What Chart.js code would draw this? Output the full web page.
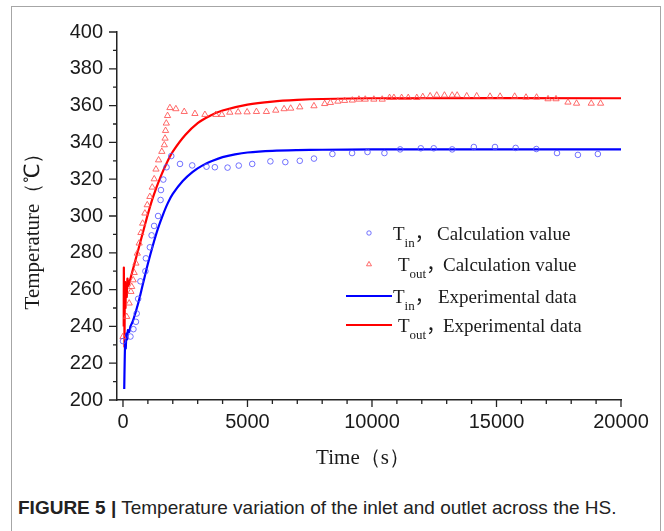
<!DOCTYPE html>
<html>
<head>
<meta charset="utf-8">
<script src="https://cdn.jsdelivr.net/npm/chart.js@4.4.1/dist/chart.umd.min.js"></script>
<style>
  html, body { margin: 0; padding: 0; background: #fff; }
  body { width: 664px; height: 531px; position: relative; overflow: hidden; }
  .frame { position: absolute; left: 11px; top: 6px; width: 648px; height: 560px; border: 1px solid #a6a6a6; }
  .chart-box { position: absolute; left: 0; top: 0; width: 664px; height: 480px; }
  .caption { position: absolute; left: 18px; top: 497px; font: 19px "Liberation Sans", Arial, sans-serif; color: #222; white-space: nowrap; }
</style>
</head>
<body>
<div class="frame"></div>
<div class="chart-box"><canvas id="chart" width="664" height="480"></canvas></div>
<div class="caption"><b>FIGURE 5 |</b> Temperature variation of the inlet and outlet across the HS.</div>
<script>
const xTicks = [0, 5000, 10000, 15000, 20000];
const yTicks = [200, 220, 240, 260, 280, 300, 320, 340, 360, 380, 400];

// T_in, calculation value (circles)
const tinCalcTime = [0, 300, 420, 520, 550, 610, 700, 900, 920, 1080, 1150, 1250, 1410, 1510, 1525, 1620, 1750, 1940, 2290, 2780, 3355, 3690, 4200, 4650, 5190, 5920, 6520, 7100, 7670, 8410, 9200, 9820, 10500, 11130, 11960, 12480, 13220, 14090, 14940, 15770, 16600, 17430, 18270, 19070];
const tinCalcTemp = [232, 234.5, 238.5, 242.5, 247, 255, 264.5, 270, 277, 283, 289.5, 294.6, 300, 308.7, 314.1, 319.8, 326.5, 332.6, 328.3, 327.5, 326.8, 326.5, 326.3, 327.4, 328.3, 329.7, 329.3, 330, 331.2, 333.7, 334.2, 334.8, 334.2, 336.2, 336.8, 336.8, 336.2, 337.5, 337.5, 337, 336.4, 334.2, 333.2, 333.7];

// T_out, calculation value (triangles)
const toutCalcTime = [0, 150, 250, 320, 350, 410, 450, 520, 575, 650, 720, 790, 880, 975, 1080, 1175, 1255, 1325, 1430, 1560, 1660, 1690, 1710, 1740, 1790, 1885, 2125, 2460, 2890, 3290, 3730, 3970, 4290, 4625, 4985, 5360, 5760, 6135, 6470, 6735, 7100, 7670, 8100, 8330, 8630, 8900, 9210, 9475, 9730, 10075, 10410, 10705, 10880, 11190, 11455, 11800, 12040, 12335, 12600, 12910, 13220, 13420, 13805, 14205, 14740, 15145, 15730, 16185, 16610, 17070, 17390, 17870, 18215, 18805, 19180];
const toutCalcTemp = [234.4, 245.3, 252.6, 258.9, 261.6, 265.2, 269.2, 274.3, 279.7, 285.2, 290.9, 296, 301.5, 306, 310.5, 315.6, 320.1, 325.4, 330.4, 335, 338.6, 342.2, 346.4, 350.4, 354.5, 358.8, 358.2, 356.7, 355.6, 355.1, 355.1, 355.1, 356.3, 356.5, 356.5, 356.7, 356.7, 357.4, 358.2, 358.5, 359.2, 359.8, 361, 361.6, 362.3, 362.7, 362.9, 363.4, 363.4, 363.4, 363.4, 364.3, 364.3, 364.3, 364.3, 364.3, 364.8, 365.2, 365.6, 365.6, 365.6, 365.6, 365.2, 365.2, 365, 365, 365, 364.5, 364.5, 363.6, 363.6, 361.8, 361.2, 361.2, 361.2];

// T_in, experimental data (blue line)
const tinExpTime = [50, 70, 90, 110, 140, 170, 200, 250, 300, 400, 600, 800, 1000, 1200, 1400, 1600, 1800, 2000, 2400, 2800, 3200, 3600, 4000, 4500, 5000, 6000, 7000, 8000, 10000, 15000, 20000];
const tinExpTemp = [206, 222, 232, 228, 236, 233, 238, 237, 240, 243, 252, 263, 274, 284, 293, 300.5, 307, 312, 319, 324, 327.5, 330, 332, 333.5, 334.5, 335.4, 335.8, 336, 336.2, 336.2, 336.2];

// T_out, experimental data (red line)
const toutExpTime = [30, 35, 45, 55, 60, 80, 100, 120, 150, 180, 220, 300, 400, 500, 600, 800, 1000, 1200, 1500, 1800, 2000, 2500, 3000, 3500, 4000, 5000, 6000, 7000, 8000, 10000, 20000];
const toutExpTemp = [240, 272, 245, 262, 229, 264, 250, 262, 256, 266, 262, 266, 271, 276, 281, 291, 301, 310, 321, 330, 335, 344, 350.5, 354.5, 357.3, 360.5, 362.2, 363.1, 363.6, 364, 364];

const legendSubs = ["in", "out", "in", "out"];
const legendTexts = ["Calculation value", "Calculation value", "Experimental data", "Experimental data"];

const blueMark = "rgba(80, 80, 255, 0.8)";
const redMark = "rgba(255, 80, 80, 0.85)";
const blueLine = "#0000ff";
const redLine = "#ff0000";
const axisColor = "#222";
const serif = "'Liberation Serif', 'Times New Roman', serif";
const sans = "'Liberation Sans', Arial, sans-serif";

const toPoints = (xs, ys) => xs.map((x, i) => ({ x, y: ys[i] }));

const decorations = {
  id: "decorations",
  afterDraw(chart) {
    const { ctx } = chart;
    const x = chart.scales.x;
    const y = chart.scales.y;
    ctx.save();
    ctx.strokeStyle = axisColor;
    ctx.lineWidth = 1.3;
    ctx.beginPath();
    for (let t = 0; t <= 20000; t += 1000) {
      const px = x.getPixelForValue(t);
      const len = t % 5000 === 0 ? 7 : 4;
      ctx.moveTo(px, y.bottom);
      ctx.lineTo(px, y.bottom + len);
    }
    for (let v = 200; v <= 400; v += 10) {
      const py = y.getPixelForValue(v);
      const len = v % 20 === 0 ? 8 : 4;
      ctx.moveTo(x.left, py);
      ctx.lineTo(x.left - len, py);
    }
    ctx.stroke();

    // axis titles
    ctx.fillStyle = "#1a1a1a";
    ctx.font = "21px " + serif;
    ctx.textAlign = "center";
    ctx.textBaseline = "middle";
    ctx.fillText("Time（s）", 363, 458);
    ctx.save();
    ctx.translate(33, 226);
    ctx.rotate(-Math.PI / 2);
    ctx.fillText("Temperature（℃）", 0, 0);
    ctx.restore();

    // legend
    const rows = [233, 264, 296, 325];
    const tX = [393, 398, 393, 398];
    const textX = [437, 443, 438, 443];
    ctx.textAlign = "left";
    ctx.textBaseline = "alphabetic";
    rows.forEach((ry, i) => {
      ctx.lineWidth = 1;
      if (i === 0) {
        ctx.strokeStyle = blueMark;
        ctx.beginPath();
        ctx.arc(369, ry, 2.2, 0, Math.PI * 2);
        ctx.stroke();
      } else if (i === 1) {
        ctx.strokeStyle = redMark;
        ctx.beginPath();
        ctx.moveTo(369, ry - 2.6);
        ctx.lineTo(371.5, ry + 1.8);
        ctx.lineTo(366.5, ry + 1.8);
        ctx.closePath();
        ctx.stroke();
      } else {
        ctx.strokeStyle = i === 2 ? blueLine : redLine;
        ctx.lineWidth = 2.2;
        ctx.beginPath();
        ctx.moveTo(346, ry);
        ctx.lineTo(392, ry);
        ctx.stroke();
      }
      const base = ry + 7;
      ctx.font = "19px " + serif;
      ctx.fillText("T", tX[i], base);
      const tw = ctx.measureText("T").width;
      ctx.font = "13px " + serif;
      ctx.fillText(legendSubs[i], tX[i] + tw, base + 7);
      const sw = ctx.measureText(legendSubs[i]).width;
      ctx.font = "19px 'Noto Sans CJK SC', sans-serif";
      ctx.fillText("，", tX[i] + tw + sw, base);
      ctx.font = "19px " + serif;
      ctx.fillText(legendTexts[i], textX[i], base);
    });
    ctx.restore();
  },
};

new Chart(document.getElementById("chart"), {
  type: "scatter",
  data: {
    datasets: [
      {
        data: toPoints(tinCalcTime, tinCalcTemp),
        pointStyle: "circle",
        pointRadius: 2.8,
        borderColor: blueMark,
        backgroundColor: "transparent",
        pointBorderWidth: 1,
      },
      {
        data: toPoints(toutCalcTime, toutCalcTemp),
        pointStyle: "triangle",
        pointRadius: 3.6,
        borderColor: redMark,
        backgroundColor: "transparent",
        pointBorderWidth: 1,
      },
      {
        data: toPoints(tinExpTime, tinExpTemp),
        showLine: true,
        pointRadius: 0,
        borderColor: blueLine,
        borderWidth: 2.2,
        tension: 0.3,
      },
      {
        data: toPoints(toutExpTime, toutExpTemp),
        showLine: true,
        pointRadius: 0,
        borderColor: redLine,
        borderWidth: 2.2,
        tension: 0.3,
      },
    ],
  },
  options: {
    responsive: false,
    animation: false,
    devicePixelRatio: 1,
    layout: { padding: { left: 0, top: 32, right: 43, bottom: 0 } },
    plugins: { legend: { display: false }, tooltip: { enabled: false } },
    scales: {
      x: {
        type: "linear",
        min: -240,
        max: 20000,
        afterBuildTicks: (scale) => {
          scale.ticks = xTicks.map((v) => ({ value: v }));
        },
        afterFit: (scale) => {
          scale.height = 80;
        },
        grid: { display: false, drawTicks: false },
        border: { display: true, color: axisColor, width: 1.5 },
        ticks: {
          padding: 10,
          maxRotation: 0,
          color: "#1a1a1a",
          font: { family: sans, size: 20 },
          callback: (v) => String(v),
        },
      },
      y: {
        min: 200,
        max: 400,
        afterBuildTicks: (scale) => {
          scale.ticks = yTicks.map((v) => ({ value: v }));
        },
        afterFit: (scale) => {
          scale.width = 117;
        },
        grid: { display: false, drawTicks: false },
        border: { display: true, color: axisColor, width: 1.5 },
        ticks: {
          padding: 14,
          color: "#1a1a1a",
          font: { family: sans, size: 20 },
          callback: (v) => String(v),
        },
      },
    },
  },
  plugins: [decorations],
});
</script>
</body>
</html>
